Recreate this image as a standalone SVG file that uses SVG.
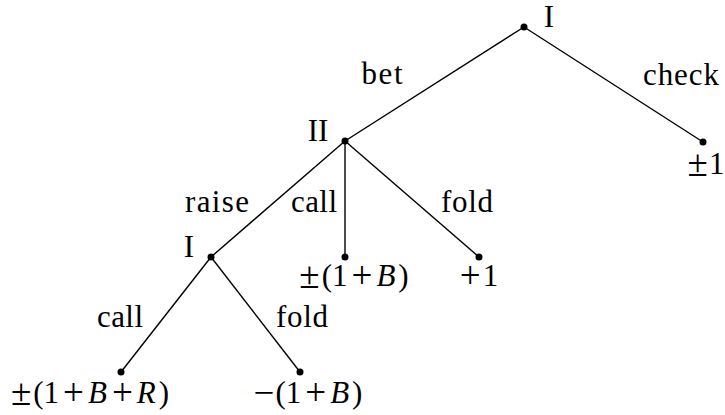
<svg xmlns="http://www.w3.org/2000/svg" width="725" height="415" viewBox="0 0 725 415">
<style>
.e{stroke:#000;stroke-width:1.4;fill:none}
.d{fill:#000}
text{font-family:"Liberation Serif","DejaVu Serif",serif;font-size:31px;fill:#000;text-anchor:middle}
.i{font-style:italic}
.o{font-size:37px}
</style>
<rect width="725" height="415" fill="#fff"/>
<g id="connectors">
<line class="e" x1="524" y1="27" x2="703" y2="142"/>
<line class="e" x1="524" y1="27" x2="345" y2="141"/>
<line class="e" x1="345" y1="141" x2="211" y2="257"/>
<line class="e" x1="345" y1="141" x2="345" y2="257"/>
<line class="e" x1="345" y1="141" x2="479" y2="257"/>
<line class="e" x1="211" y1="257" x2="121" y2="372"/>
<line class="e" x1="211" y1="257" x2="300" y2="372"/>
<text x="382" y="84" textLength="41" lengthAdjust="spacing">bet</text>
<text x="681" y="85" textLength="76" lengthAdjust="spacing">check</text>
<text x="217" y="212" textLength="64" lengthAdjust="spacing">raise</text>
<text x="314" y="212" textLength="46" lengthAdjust="spacing">call</text>
<text x="467" y="212" textLength="52" lengthAdjust="spacing">fold</text>
<text x="120" y="327" textLength="46" lengthAdjust="spacing">call</text>
<text x="302" y="327" textLength="52" lengthAdjust="spacing">fold</text>
</g>
<g id="root"><circle class="d" cx="524" cy="27" r="3.5"/><text x="549" y="27">I</text></g>
<g id="leaf-check"><circle class="d" cx="703" cy="142" r="3.5"/><text x="706" y="174"><tspan class="o" dy="2">±</tspan><tspan dx="1" dy="-2">1</tspan></text></g>
<g id="nodeII"><circle class="d" cx="345" cy="141" r="3.5"/><text x="318" y="141">II</text></g>
<g id="leaf-call"><circle class="d" cx="345" cy="257" r="3.5"/><text x="354" y="286"><tspan class="o" dy="2">±</tspan><tspan dx="2" dy="-2">(1</tspan><tspan class="o" dx="4" dy="2">+</tspan><tspan class="i" dx="4" dy="-2">B</tspan><tspan dx="3">)</tspan></text></g>
<g id="leaf-fold"><circle class="d" cx="479" cy="257" r="3.5"/><text x="479" y="286"><tspan class="o" dy="2">+</tspan><tspan dx="2" dy="-2">1</tspan></text></g>
<g id="nodeI2"><circle class="d" cx="211" cy="257" r="3.5"/><text x="189" y="257">I</text></g>
<g id="leaf-raise-call"><circle class="d" cx="121" cy="372" r="3.5"/><text x="90" y="403"><tspan class="o" dy="2">±</tspan><tspan dx="2" dy="-2">(1</tspan><tspan class="o" dx="4" dy="2">+</tspan><tspan class="i" dx="4" dy="-2">B</tspan><tspan class="o" dx="5" dy="2">+</tspan><tspan class="i" dx="4" dy="-2">R</tspan><tspan dx="3">)</tspan></text></g>
<g id="leaf-raise-fold"><circle class="d" cx="300" cy="372" r="3.5"/><text x="308" y="403"><tspan class="o" dy="2">−</tspan><tspan dx="1" dy="-2">(1</tspan><tspan class="o" dx="4" dy="2">+</tspan><tspan class="i" dx="4" dy="-2">B</tspan><tspan dx="3">)</tspan></text></g>
</svg>
